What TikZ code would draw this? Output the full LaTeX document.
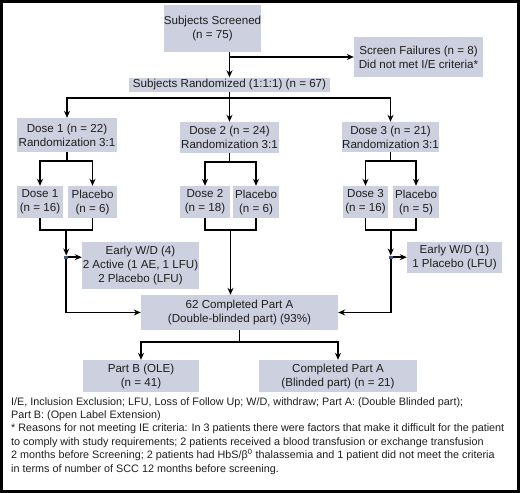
\documentclass[tikz,border=0pt]{standalone}
\usepackage{fontspec}
\setmainfont{Liberation Sans}
\usetikzlibrary{arrows.meta,calc}
\definecolor{BoxFill}{HTML}{CDD0DF}
\definecolor{JunBlue}{HTML}{3F5A7A}
\definecolor{InkGray}{HTML}{1E1E1E}

\begin{document}
\begin{tikzpicture}[x=1pt, y=-1pt,
    box/.style={fill=BoxFill, align=center, inner sep=0pt, text=InkGray, font=\fontsize{11.6}{14}\selectfont},
    ln/.style={line width=1.6pt},
    arr/.style={ln, -{Stealth[length=7pt,width=6pt]}},
    jun/.style={fill=JunBlue, minimum width=4pt, minimum height=3pt, inner sep=0pt},
    note/.style={anchor=north west, align=left, inner sep=0pt, text=InkGray, font=\fontsize{10.8}{13.4}\selectfont},
  ]
  \useasboundingbox (0,0) rectangle (520,493);
  \draw[line width=3pt] (1.5,1.5) rectangle (518.5,491.5);

  % screening
  \node[box, minimum width=83, minimum height=47] (scr) at (212.5,28.5) {Subjects Screened\\(n = 75)};
  \node[box, minimum width=129, minimum height=40] (fail) at (418.5,57) {Screen Failures (n = 8)\\Did not met I/E criteria*};
  \node[box, minimum width=201, minimum height=14] (rand) at (229.5,84.5) {Subjects Randomized (1:1:1) (n = 67)};

  % dose arms
  \node[box, minimum width=100, minimum height=34] (d1) at (67,135) {Dose 1 (n = 22)\\Randomization 3:1};
  \node[box, minimum width=99, minimum height=31] (d2) at (229.5,137.5) {Dose 2 (n = 24)\\Randomization 3:1};
  \node[box, minimum width=97, minimum height=30] (d3) at (390.5,137) {Dose 3 (n = 21)\\Randomization 3:1};

  \node[box, minimum width=46, minimum height=32] (a1) at (40,202) {Dose 1\\(n = 16)};
  \node[box, minimum width=49, minimum height=32] (p1) at (92.5,202) {Placebo\\(n = 6)};
  \node[box, minimum width=50, minimum height=32] (a2) at (205,202) {Dose 2\\(n = 18)};
  \node[box, minimum width=46, minimum height=32] (p2) at (256,202) {Placebo\\(n = 6)};
  \node[box, minimum width=45, minimum height=32] (a3) at (365.5,202) {Dose 3\\(n = 16)};
  \node[box, minimum width=46, minimum height=32] (p3) at (416,202) {Placebo\\(n = 5)};

  % withdrawals and completion
  \node[box, minimum width=117, minimum height=47] (e1) at (140.5,265.5) {Early W/D (4)\\2 Active (1 AE, 1 LFU)\\2 Placebo (LFU)};
  \node[box, minimum width=95, minimum height=31] (e3) at (454.5,257.5) {Early W/D (1)\\1 Placebo (LFU)};
  \node[box, minimum width=197, minimum height=35] (comp) at (239.5,312.5) {62 Completed Part A\\(Double-blinded part) (93\%)};
  \node[box, minimum width=116, minimum height=32] (pb) at (141,376) {Part B (OLE)\\(n = 41)};
  \node[box, minimum width=158, minimum height=32] (cb) at (338,376) {Completed Part A\\(Blinded part) (n = 21)};

  % connectors
  \draw[ln] (scr.south -| rand.north) -- (fail.west -| rand.north);
  \draw[arr] (fail.west -| rand.north) -- (rand.north);
  \draw[arr] (fail.west -| rand.north) -- (fail.west);

  \coordinate (rsplit) at ($(rand.south)+(0,6.5)$);
  \draw[ln] (rand.south) -- (rsplit);
  \draw[arr] (rsplit) -| (d1.north);
  \draw[arr] (rsplit) -- (d2.north);
  \draw[arr] (rsplit) -| (d3.north);

  \foreach \i in {1,2,3} {
    \coordinate (s\i) at ($(d\i.south)+(0,9)$);
    \draw[ln] (d\i.south) -- (s\i);
    \draw[arr] (s\i) -| (a\i.north);
    \draw[arr] (s\i) -| (p\i.north);
    \coordinate (m\i) at ($(a\i.south)!0.5!(p\i.south)+(0,12)$);
    \draw[ln] (a\i.south) |- (m\i) -| (p\i.south);
  }

  \node[jun] (j1) at ($(m1)+(0,27)$) {};
  \node[jun] (j3) at ($(m3)+(0,27)$) {};
  \draw[arr] (m1) -- (j1.north);
  \draw[arr] (m3) -- (j3.north);
  \draw[arr] (j1.east) -- (j1.east -| e1.west);
  \draw[arr] (j3.east) -- (j3.east -| e3.west);
  \draw[arr] (j1.south) |- (comp.west);
  \draw[arr] (j3.south) |- (comp.east);
  \draw[arr] (m2) -- (m2 |- comp.north);

  \coordinate (csplit) at ($(comp.south)+(0,12)$);
  \draw[ln] (comp.south) -- (csplit);
  \draw[arr] (csplit) -| (pb.north);
  \draw[arr] (csplit) -| (cb.north);

  % footnote
  \node[note] (foot) at (11,397) {I/E, Inclusion Exclusion; LFU, Loss of Follow Up; W/D, withdraw; Part A: (Double Blinded part);\\
    Part B: (Open Label Extension)\\
    * Reasons for not meeting IE criteria: In 3 patients there were factors that make it difficult for the patient\\
    to comply with study requirements; 2 patients received a blood transfusion or exchange transfusion\\
    2 months before Screening; 2 patients had HbS/β\textsuperscript{0} thalassemia and 1 patient did not meet the criteria\\
    in terms of number of SCC 12 months before screening.};
\end{tikzpicture}
\end{document}
